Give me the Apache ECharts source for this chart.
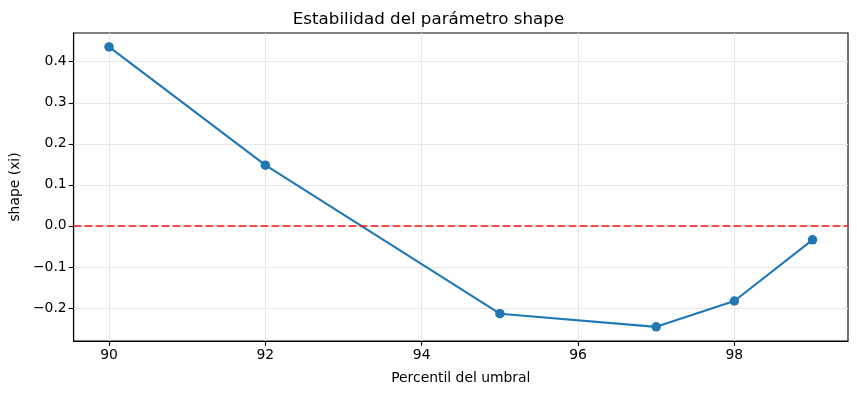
<!DOCTYPE html>
<html><head><meta charset="utf-8">
<script src="https://cdn.jsdelivr.net/npm/echarts@6/dist/echarts.min.js"></script>
<style>html,body{margin:0;padding:0;background:#fff}#c{width:857px;height:394px}</style>
</head><body><div id="c"></div>
<script>
const percentiles = [90, 92, 95, 97, 98, 99];
const shapeValues = [0.436, 0.148, -0.214, -0.246, -0.183, -0.034];
const xTicks = [90, 92, 94, 96, 98];
const yTicks = [-0.2, -0.1, 0.0, 0.1, 0.2, 0.3, 0.4];
const refLine = 0;

const font = 'DejaVu Sans';
const chart = echarts.init(document.getElementById('c'), null, {renderer: 'canvas'});
const gridStyle = {show: true, lineStyle: {color: '#e7e7e7', width: 1.1}};
chart.setOption({
  animation: false,
  title: {text: 'Estabilidad del parámetro shape', left: 'center', top: 6,
    textStyle: {fontFamily: font, fontSize: 16.7, fontWeight: 'normal', color: '#000'}},
  grid: {left: 73, right: 9, top: 33, bottom: 53, containLabel: false,
    show: true, borderColor: '#000', borderWidth: 1.1, backgroundColor: 'transparent'},
  xAxis: {
    type: 'value', min: 89.547, max: 99.454,
    name: 'Percentil del umbral', nameLocation: 'middle', nameGap: 30,
    nameTextStyle: {fontFamily: font, fontSize: 13.9, color: '#000'},
    axisLine: {onZero: false, lineStyle: {color: '#000', width: 1.1}},
    axisTick: {show: true, length: 4.9, lineStyle: {color: '#000', width: 1.1}, customValues: xTicks},
    axisLabel: {fontFamily: font, fontSize: 13.9, color: '#000', margin: 7, customValues: xTicks},
    splitLine: gridStyle
  },
  yAxis: {
    type: 'value', min: -0.2805, max: 0.470,
    name: 'shape (xi)', nameLocation: 'middle', nameGap: 44, nameRotate: 90,
    nameTextStyle: {fontFamily: font, fontSize: 13.9, color: '#000'},
    axisLine: {show: true, onZero: false, lineStyle: {color: '#000', width: 1.1}},
    axisTick: {show: true, length: 4.9, lineStyle: {color: '#000', width: 1.1}, customValues: yTicks},
    axisLabel: {fontFamily: font, fontSize: 13.9, color: '#000', margin: 7, customValues: yTicks,
      formatter: v => (v < 0 ? '\u2212' + Math.abs(v).toFixed(1) : v.toFixed(1))},
    splitLine: gridStyle
  },
  series: [
    {
      type: 'line', data: percentiles.map((p, i) => [p, shapeValues[i]]),
      symbol: 'circle', symbolSize: 9.5, showSymbol: true,
      lineStyle: {color: '#1f77b4', width: 2.08},
      itemStyle: {color: '#1f77b4'},
      z: 3,
      markLine: {
        silent: true, symbol: 'none', label: {show: false},
        lineStyle: {color: 'rgba(255,0,0,0.7)', width: 2.08, type: [7.7, 3.3]},
        data: [{yAxis: refLine}]
      }
    }
  ]
});
</script></body></html>
